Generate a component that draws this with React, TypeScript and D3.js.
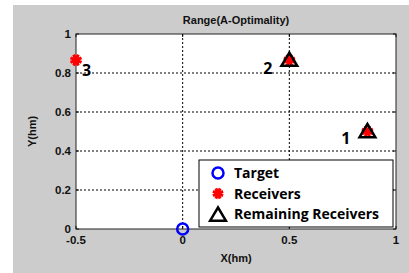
import React from "react"
import * as d3 from "d3"

// data
const target = [{ x: 0, y: 0 }]
const receivers = [
  { x: 0.866, y: 0.5, label: "1" },
  { x: 0.5, y: 0.866, label: "2" },
  { x: -0.5, y: 0.866, label: "3" },
]
const remaining = [
  { x: 0.866, y: 0.5 },
  { x: 0.5, y: 0.866 },
]
const xTicks = [-0.5, 0, 0.5, 1]
const yTicks = [0, 0.2, 0.4, 0.6, 0.8, 1]
const legendItems = ["Target", "Receivers", "Remaining Receivers"]

const W = 409
const H = 273
const plot = { left: 76, right: 396, top: 34, bottom: 229 }

const asterisk = (cx: number, cy: number, r: number, color: string) => {
  const lines = []
  for (let i = 0; i < 4; i++) {
    const a = (i * Math.PI) / 4 + Math.PI / 8
    lines.push(
      <line
        key={i}
        x1={cx - r * Math.cos(a)}
        y1={cy - r * Math.sin(a)}
        x2={cx + r * Math.cos(a)}
        y2={cy + r * Math.sin(a)}
        stroke={color}
        strokeWidth={3}
      />
    )
  }
  lines.push(<circle key="c" cx={cx} cy={cy} r={3.5} fill={color} />)
  return lines
}

const triPath = (cx: number, cy: number, s: number) =>
  `M${cx},${cy - s}L${cx + s * 1.05},${cy + s * 0.75}L${cx - s * 1.05},${cy + s * 0.75}Z`

const App: React.FC = () => {
  const x = d3.scaleLinear().domain([-0.5, 1]).range([plot.left, plot.right])
  const y = d3.scaleLinear().domain([0, 1]).range([plot.bottom, plot.top])
  const fmt = (v: number) => (v === 0 ? "0" : String(v))
  const labelOffset: Record<string, [number, number, string]> = {
    "1": [-17, 12, "end"],
    "2": [-17, 14, "end"],
    "3": [6, 16, "start"],
  }
  const lg = { x0: 199, y0: 160, x1: 393, y1: 227 }

  return (
    <svg width={W} height={H} style={{ position: "absolute", left: 0, top: 0 }} fontFamily="Arial, 'Liberation Sans', sans-serif">
      <rect x={0} y={0} width={W} height={H} fill="#ffffff" />
      <rect x={13} y={5} width={W - 13} height={H - 5} fill="#cccccc" />
      <rect x={plot.left} y={plot.top} width={plot.right - plot.left} height={plot.bottom - plot.top} fill="#ffffff" />

      {/* grid */}
      {xTicks.slice(1, -1).map((t) => (
        <line key={"gx" + t} x1={x(t)} x2={x(t)} y1={plot.top} y2={plot.bottom} stroke="#000" strokeWidth={1} strokeDasharray="2,2" />
      ))}
      {yTicks.slice(1, -1).map((t) => (
        <line key={"gy" + t} x1={plot.left} x2={plot.right} y1={y(t)} y2={y(t)} stroke="#000" strokeWidth={1} strokeDasharray="2,2" />
      ))}

      {/* ticks */}
      {xTicks.map((t) => (
        <g key={"tx" + t}>
          <line x1={x(t)} x2={x(t)} y1={plot.bottom} y2={plot.bottom - 3} stroke="#000" />
          <line x1={x(t)} x2={x(t)} y1={plot.top} y2={plot.top + 3} stroke="#000" />
          <text x={x(t)} y={plot.bottom + 15} textAnchor="middle" fontSize={11.5} fontWeight="bold" fill="#111">
            {fmt(t)}
          </text>
        </g>
      ))}
      {yTicks.map((t) => (
        <g key={"ty" + t}>
          <line x1={plot.left} x2={plot.left + 3} y1={y(t)} y2={y(t)} stroke="#000" />
          <line x1={plot.right} x2={plot.right - 3} y1={y(t)} y2={y(t)} stroke="#000" />
          <text x={plot.left - 5} y={y(t) + 4} textAnchor="end" fontSize={11.5} fontWeight="bold" fill="#111">
            {fmt(t)}
          </text>
        </g>
      ))}

      <rect x={plot.left} y={plot.top} width={plot.right - plot.left} height={plot.bottom - plot.top} fill="none" stroke="#222" strokeWidth={1} />

      {/* title and axis labels */}
      <text x={(plot.left + plot.right) / 2} y={24} textAnchor="middle" fontSize={11} fontWeight="bold" fill="#111">
        Range(A-Optimality)
      </text>
      <text x={(plot.left + plot.right) / 2} y={262} textAnchor="middle" fontSize={11} fontWeight="bold" fill="#111">
        X(hm)
      </text>
      <text transform={`translate(36,${(plot.top + plot.bottom) / 2}) rotate(-90)`} textAnchor="middle" fontSize={11} fontWeight="bold" fill="#111">
        Y(hm)
      </text>

      {/* marks */}
      {target.map((d, i) => (
        <circle key={"t" + i} cx={x(d.x)} cy={y(d.y)} r={5.5} fill="none" stroke="#0000ff" strokeWidth={2.5} />
      ))}
      {receivers.map((d, i) => (
        <g key={"r" + i}>{asterisk(x(d.x), y(d.y), 6, "#ff0000")}</g>
      ))}
      {remaining.map((d, i) => (
        <path key={"rr" + i} d={triPath(x(d.x), y(d.y), 7.5)} fill="none" stroke="#000" strokeWidth={2.5} strokeLinejoin="miter" />
      ))}
      {receivers.map((d) => {
        const [dx, dy, anchor] = labelOffset[d.label]
        return (
          <text key={"l" + d.label} x={x(d.x) + dx} y={y(d.y) + dy} textAnchor={anchor as any} fontSize={16} fontWeight="bold" fill="#000" fontFamily="'Open Sans', sans-serif">
            {d.label}
          </text>
        )
      })}

      {/* legend */}
      <rect x={lg.x0} y={lg.y0} width={lg.x1 - lg.x0} height={lg.y1 - lg.y0} fill="#ffffff" stroke="#000" strokeWidth={1} />
      {legendItems.map((name, i) => {
        const cy = lg.y0 + 13 + i * 20.5
        const cx = lg.x0 + 19
        return (
          <g key={"lg" + i}>
            {i === 0 && <circle cx={cx} cy={cy} r={5.5} fill="none" stroke="#0000ff" strokeWidth={2.5} />}
            {i === 1 && asterisk(cx, cy, 5.5, "#ff0000")}
            {i === 2 && <path d={triPath(cx, cy + 1, 7.5)} fill="none" stroke="#000" strokeWidth={2.5} />}
            <text x={lg.x0 + 35} y={cy + 5} fontSize={14} fontWeight="bold" fill="#000" fontFamily="'Open Sans', sans-serif">
              {name}
            </text>
          </g>
        )
      })}
    </svg>
  )
}

export default App
